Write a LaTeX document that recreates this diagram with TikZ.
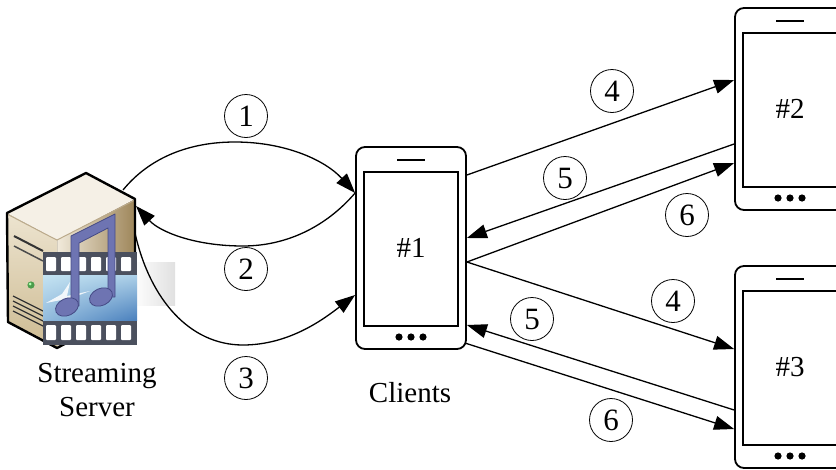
\documentclass[tikz,border=0pt]{standalone}
\usepackage{fontspec}
\setmainfont{Liberation Serif}
\usetikzlibrary{arrows.meta,shadings}

\definecolor{caseTop}{HTML}{F5F0E6}
\definecolor{caseFront}{HTML}{EDE4D0}
\definecolor{caseFrontDark}{HTML}{CDBB92}
\definecolor{caseSide}{HTML}{F1EADB}
\definecolor{caseSideDark}{HTML}{9E865A}
\definecolor{filmGray}{HTML}{4B505E}
\definecolor{filmLight}{HTML}{C4E3F2}
\definecolor{filmDark}{HTML}{4A80BD}
\definecolor{noteBlue}{HTML}{6E74B2}
\definecolor{noteEdge}{HTML}{454A85}

\tikzset{
  link/.style={line width=1.3pt, -{Triangle[length=20pt,width=14pt]}},
  num/.style={draw, circle, line width=0.8pt, minimum size=43pt, inner sep=0pt,
    font=\fontsize{31}{34}\selectfont},
  handset/.style={draw, line width=1.8pt, rounded corners=9pt,
    minimum width=110pt, minimum height=202pt, inner sep=0pt,
    path picture={
      \draw[line width=1.4pt, sharp corners]
        ([xshift=8pt,yshift=-25pt]path picture bounding box.north west)
        rectangle ([xshift=-8pt,yshift=23pt]path picture bounding box.south east);
      \draw[line width=1.6pt]
        ([xshift=-14pt,yshift=-13pt]path picture bounding box.north)
        -- ([xshift=14pt,yshift=-13pt]path picture bounding box.north);
      \foreach \dx in {-12,0,12}
        \fill ([xshift=\dx pt,yshift=12pt]path picture bounding box.south) circle (3.6pt);
    }},
}

\begin{document}
\begin{tikzpicture}[x=1pt,y=-1pt,font=\fontsize{29}{34}\selectfont]
\useasboundingbox (0,0) rectangle (836,469);
\clip (0,0) rectangle (836,469);

% streaming server: tower case
\fill[left color=caseSide, right color=caseSideDark] (57,240) -- (135,199) -- (135,307) -- (57,348) -- cycle;
\fill[top color=caseFront, bottom color=caseFrontDark] (7,213) -- (57,240) -- (57,348) -- (8,322) -- cycle;
\fill[caseTop] (7,213) -- (86,173) -- (135,199) -- (57,240) -- cycle;
\draw[caseSideDark!70, line width=1pt] (7,214) .. controls (30,226) and (45,234) .. (57,240) -- (135,200);
\draw[black!80, line width=2pt] (14,236) -- (43,251);
\draw[black!70, line width=1.5pt] (14,246) -- (43,261);
\fill[green!45!black!70] (31,285) circle (3.6pt);
\fill[green!30!white] (30.2,284) circle (1.5pt);
\foreach \k in {0,...,3}
  \draw[black!80, line width=1.2pt] (13,296+5*\k) -- (43,311+5*\k);
\draw[line width=2.4pt, line join=round] (7,213) -- (86,173) -- (135,199) -- (135,307) -- (57,348) -- (8,322) -- cycle;

% film strip with a note on it
\shade[left color=white, right color=black!12] (132,262) rectangle (175,305);
\fill[filmGray] (43,252) rectangle (137,345);
\shade[upper left=filmLight, upper right=filmLight!80!filmDark, lower left=filmLight!60!filmDark, lower right=filmDark] (43,275) rectangle (137,320);
\foreach \i in {0,...,5}
{
  \fill[white, rounded corners=1pt] (46+15*\i,257) rectangle ++(10,14);
  \fill[white, rounded corners=1pt] (46+15*\i,325) rectangle ++(10,15);
}
\fill[white, opacity=.85] (46,303) -- (62,294) -- (70,282) -- (67,296) -- (90,291) -- (66,300) -- (60,313) -- (61,300) -- cycle;
\filldraw[fill=noteBlue, draw=noteEdge, line width=0.8pt, line join=round]
  (71,236) -- (115,214) -- (115,297) -- (108,297) -- (108,228) -- (79,243) -- (79,306) -- (71,306) -- cycle;
\filldraw[fill=noteBlue, draw=noteEdge, line width=0.8pt] (67,307) ellipse [x radius=12pt, y radius=8.5pt, rotate=25];
\filldraw[fill=noteBlue, draw=noteEdge, line width=0.8pt] (101,297) ellipse [x radius=12pt, y radius=8.5pt, rotate=25];

\node[align=center] (srvname) at (97,390) {Streaming\\Server};
\coordinate (s1) at (123,190);
\coordinate (s2) at (136,206);
\coordinate (s3) at (135,233);

% the three handsets
\node[handset] (c1) at (411,248) {\#1};
\node[handset] (c2) at (790,109) {\#2};
\node[handset] (c3) at (790,367) {\#3};
\node (clients) at (410,393) {Clients};

% server <-> #1
\draw[link] (s1) .. controls (150,157) and (190,142) .. (235,142)
  .. controls (285,142) and (325,160) .. ([yshift=55pt]c1.west);
\draw[link] ([yshift=55pt]c1.west) .. controls (325,228) and (285,246) .. (243,246)
  .. controls (195,246) and (160,232) .. (s2);
\draw[link] (s3) .. controls (150,300) and (190,345) .. (243,345)
  .. controls (290,345) and (325,318) .. ([yshift=-47pt]c1.west);

% #1 <-> #2
\draw[link] ([yshift=73pt]c1.east) -- ([yshift=29pt]c2.west);
\draw[link] ([yshift=-35pt]c2.west) -- ([yshift=10pt]c1.east);
\draw[link] ([yshift=-14pt]c1.east) -- ([yshift=-54pt]c2.west);

% #1 <-> #3
\draw[link] ([yshift=-14pt]c1.east) -- ([yshift=18pt]c3.west);
\draw[link] ([yshift=-43pt]c3.west) -- ([yshift=-77pt]c1.east);
\draw[link] ([xshift=-2pt,yshift=-95pt]c1.east) -- ([yshift=-62pt]c3.west);

% step numbers
\node[num] (n1) at (246,116) {1};
\node[num] (n2) at (246,269) {2};
\node[num] (n3) at (246,378) {3};
\node[num] (n4a) at (612,91) {4};
\node[num] (n5a) at (565,178) {5};
\node[num] (n6a) at (687,215) {6};
\node[num] (n4b) at (673,301) {4};
\node[num] (n5b) at (532,319) {5};
\node[num] (n6b) at (611,420) {6};
\end{tikzpicture}
\end{document}
